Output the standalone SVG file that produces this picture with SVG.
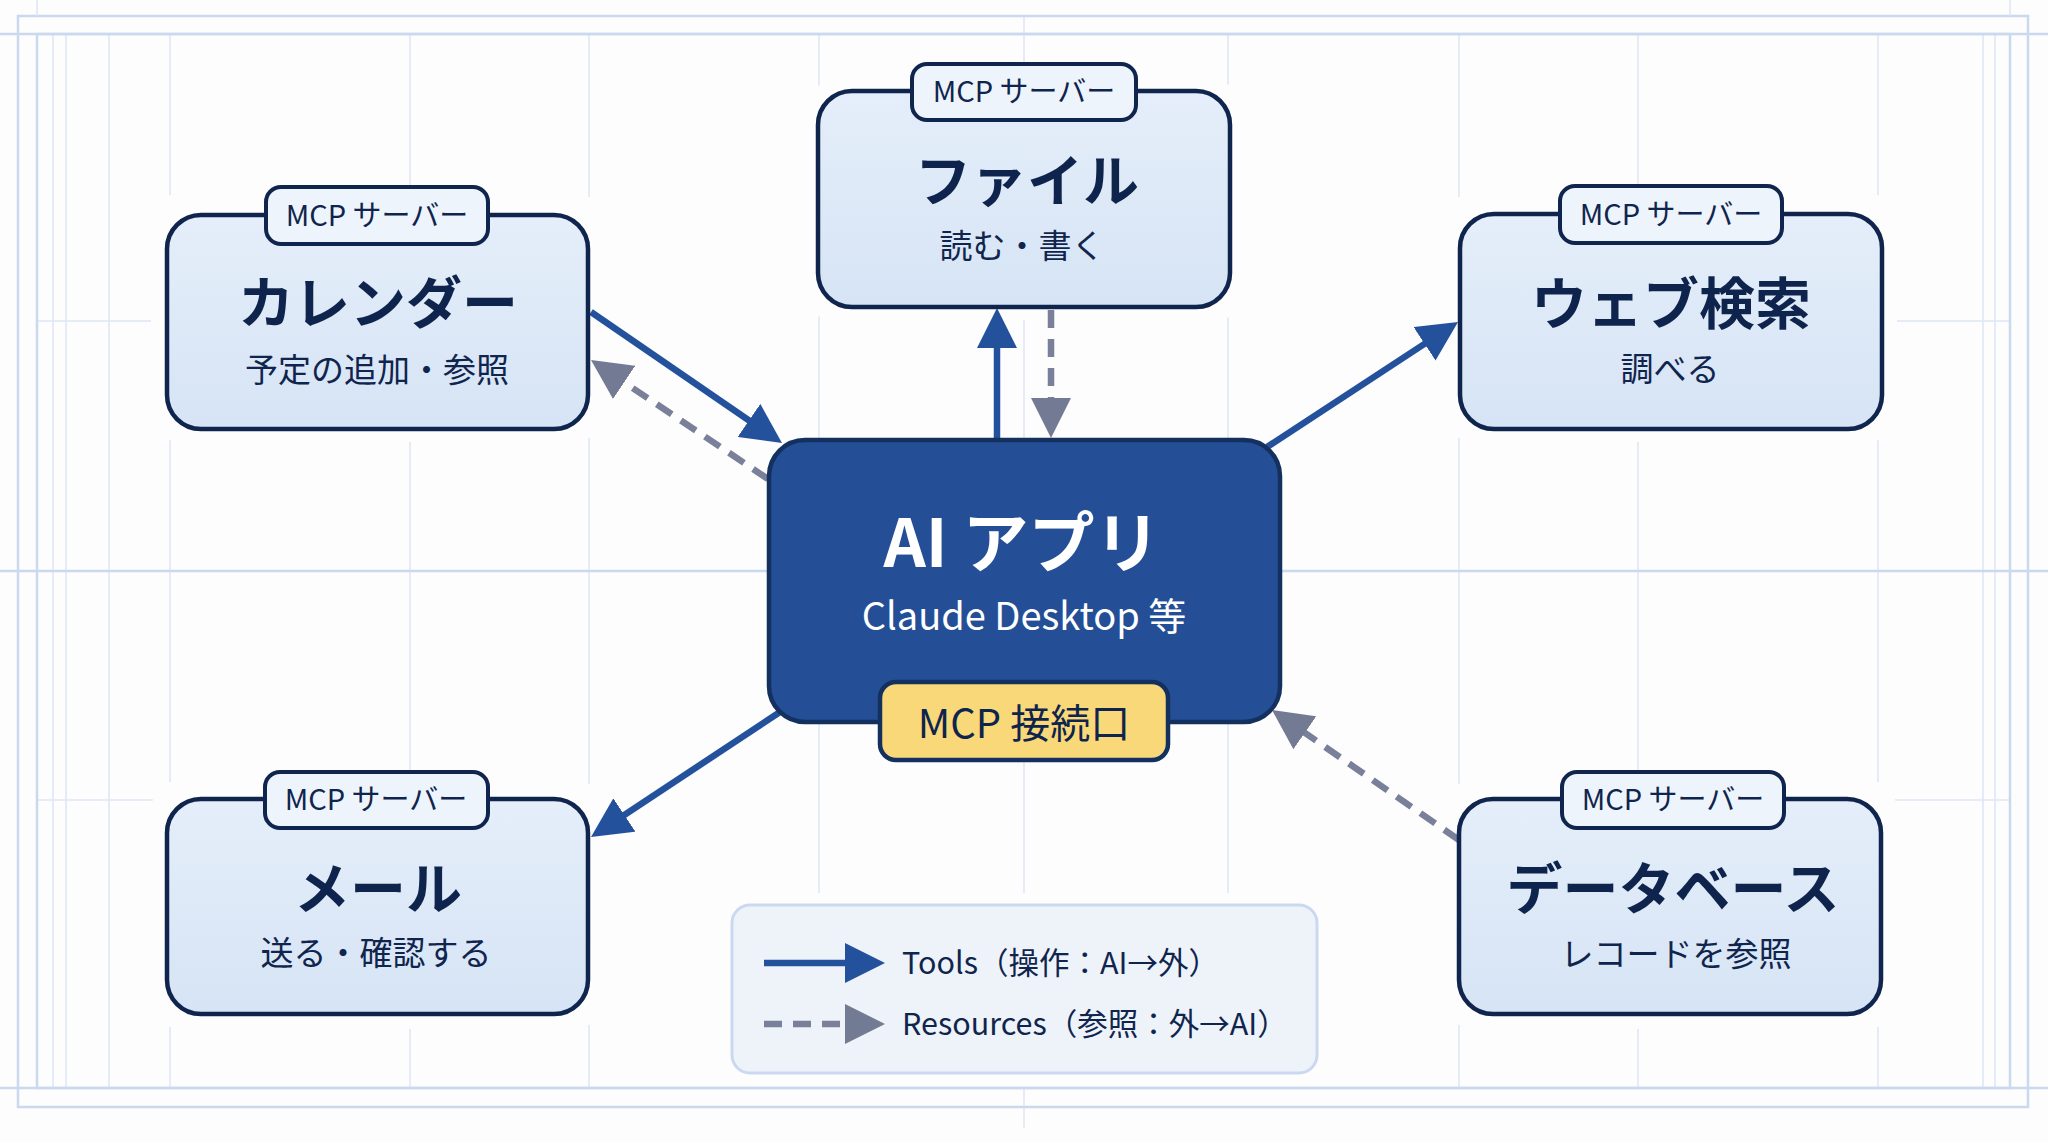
<svg xmlns="http://www.w3.org/2000/svg" width="2048" height="1143" viewBox="0 0 2048 1143">
  <defs>
    <style>
      .grid { stroke: #dce6f4; stroke-width: 1.5; fill: none; }
      .frame { stroke: #cbd9ee; stroke-width: 2.5; fill: none; }
      .knock { fill: #fdfdfe; }
      .box { fill: url(#boxGrad); stroke: #10254d; stroke-width: 4.5; }
      .tab { fill: #eef4fc; stroke: #10254d; stroke-width: 4; }
      .tabtxt { font-family: "Noto Sans CJK JP", "Noto Sans", sans-serif; font-size: 29px; fill: #10254d; text-anchor: middle; }
      .title { font-family: "Noto Sans CJK JP", "Noto Sans", sans-serif; font-size: 56px; font-weight: 700; fill: #0f244d; text-anchor: middle; }
      .sub { font-family: "Noto Sans CJK JP", "Noto Sans", sans-serif; font-size: 33px; fill: #10254d; text-anchor: middle; }
      .tool { stroke: #24519c; stroke-width: 6.5; fill: none; }
      .res { stroke: #7a8099; stroke-width: 6.5; fill: none; stroke-dasharray: 18 11; }
      .legtxt { font-family: "Noto Sans CJK JP", "Noto Sans", sans-serif; font-size: 30.5px; fill: #10254d; }
    </style>
    <linearGradient id="boxGrad" x1="0" y1="0" x2="0" y2="1">
      <stop offset="0" stop-color="#e5eefa"/>
      <stop offset="1" stop-color="#d6e4f5"/>
    </linearGradient>
    <marker id="ahTool" markerUnits="userSpaceOnUse" viewBox="0 0 40 40" markerWidth="40" markerHeight="40" refX="20" refY="20" orient="auto">
      <path d="M0,0 L40,20 L0,40 z" fill="#24519c"/>
    </marker>
    <marker id="ahRes" markerUnits="userSpaceOnUse" viewBox="0 0 40 40" markerWidth="40" markerHeight="40" refX="20" refY="20" orient="auto">
      <path d="M0,0 L40,20 L0,40 z" fill="#737a94"/>
    </marker>
  </defs>

  <rect x="0" y="0" width="2048" height="1143" fill="#fdfdfe"/>

  <g id="background">
    <line class="grid" x1="53" y1="34" x2="53" y2="1088"/>
    <line class="grid" x1="66" y1="34" x2="66" y2="1088"/>
    <line class="grid" x1="109" y1="34" x2="109" y2="1088"/>
    <line class="grid" x1="170" y1="34" x2="170" y2="1088"/>
    <line class="grid" x1="410" y1="34" x2="410" y2="1088"/>
    <line class="grid" x1="589" y1="34" x2="589" y2="1088"/>
    <line class="grid" x1="819" y1="34" x2="819" y2="1088"/>
    <line class="grid" x1="1024" y1="16" x2="1024" y2="1128"/>
    <line class="grid" x1="1228" y1="34" x2="1228" y2="1088"/>
    <line class="grid" x1="1459" y1="34" x2="1459" y2="1088"/>
    <line class="grid" x1="1638" y1="34" x2="1638" y2="1088"/>
    <line class="grid" x1="1878" y1="34" x2="1878" y2="1088"/>
    <line class="grid" x1="1983" y1="34" x2="1983" y2="1088"/>
    <line class="grid" x1="1995" y1="34" x2="1995" y2="1088"/>
    <line class="grid" x1="37" y1="321" x2="153" y2="321"/>
    <line class="grid" x1="1895" y1="321" x2="2010" y2="321"/>
    <line class="grid" x1="37" y1="800" x2="153" y2="800"/>
    <line class="grid" x1="1895" y1="800" x2="2010" y2="800"/>
    <line class="frame" x1="0" y1="571" x2="2048" y2="571"/>
    <rect class="knock" x="151" y="193" width="453" height="249" rx="30"/>
    <rect class="knock" x="151" y="780" width="453" height="249" rx="30"/>
    <rect class="knock" x="1444" y="193" width="453" height="249" rx="30"/>
    <rect class="knock" x="1444" y="780" width="453" height="249" rx="30"/>
    <rect class="knock" x="803" y="82" width="443" height="238" rx="30"/>
    <rect class="knock" x="717" y="893" width="612" height="194" rx="20"/>
    <rect class="frame" x="18" y="16" width="2010" height="1091"/>
    <rect class="frame" x="37" y="34" width="1973" height="1054"/>
    <line class="frame" x1="0" y1="34" x2="2048" y2="34"/>
    <line class="frame" x1="0" y1="1088" x2="2048" y2="1088"/>
    <line class="grid" x1="37" y1="0" x2="37" y2="16"/>
    <line class="grid" x1="2010" y1="0" x2="2010" y2="16"/>
  </g>

  <g id="connectors">
    <line class="tool" x1="591" y1="312" x2="765.5" y2="431.7" marker-end="url(#ahTool)"/>
    <line class="res" x1="768" y1="479" x2="607.6" y2="371.2" marker-end="url(#ahRes)"/>
    <line class="tool" x1="997" y1="441" x2="997" y2="328" marker-end="url(#ahTool)"/>
    <line class="res" x1="1051" y1="310" x2="1051" y2="418" marker-end="url(#ahRes)"/>
    <line class="tool" x1="1267" y1="447" x2="1441.3" y2="332.9" marker-end="url(#ahTool)"/>
    <line class="tool" x1="780" y1="712" x2="607.7" y2="826" marker-end="url(#ahTool)"/>
    <line class="res" x1="1459" y1="840" x2="1288.4" y2="721.4" marker-end="url(#ahRes)"/>
  </g>

  <g id="node-calendar">
    <rect class="box" x="167" y="215" width="421" height="214" rx="34"/>
    <rect class="tab" x="266" y="187" width="222" height="57" rx="15"/>
    <text class="tabtxt" x="377" y="226">MCP サーバー</text>
    <text class="title" x="378" y="323">カレンダー</text>
    <text class="sub" x="377" y="382">予定の追加・参照</text>
  </g>

  <g id="node-file">
    <rect class="box" x="818" y="91" width="412" height="216" rx="34"/>
    <rect class="tab" x="912" y="64" width="224" height="56" rx="15"/>
    <text class="tabtxt" x="1024" y="102">MCP サーバー</text>
    <text class="title" x="1027" y="201">ファイル</text>
    <text class="sub" x="1022" y="258">読む・書く</text>
  </g>

  <g id="node-web">
    <rect class="box" x="1460" y="214" width="422" height="215" rx="34"/>
    <rect class="tab" x="1560" y="186" width="222" height="57" rx="15"/>
    <text class="tabtxt" x="1671" y="225">MCP サーバー</text>
    <text class="title" x="1671" y="324">ウェブ検索</text>
    <text class="sub" x="1670" y="381">調べる</text>
  </g>

  <g id="node-mail">
    <rect class="box" x="167" y="799" width="421" height="215" rx="34"/>
    <rect class="tab" x="265" y="772" width="223" height="56" rx="15"/>
    <text class="tabtxt" x="376" y="810">MCP サーバー</text>
    <text class="title" x="378" y="909">メール</text>
    <text class="sub" x="376" y="965">送る・確認する</text>
  </g>

  <g id="node-database">
    <rect class="box" x="1459" y="799" width="422" height="215" rx="34"/>
    <rect class="tab" x="1562" y="772" width="222" height="56" rx="15"/>
    <text class="tabtxt" x="1673" y="810">MCP サーバー</text>
    <text class="title" x="1673" y="909">データベース</text>
    <text class="sub" x="1676" y="966">レコードを参照</text>
  </g>

  <g id="node-ai">
    <rect x="769" y="440" width="511" height="282" rx="36" fill="#244f96" stroke="#13305f" stroke-width="4.5"/>
    <text x="1022" y="567" font-family="Noto Sans CJK JP, Noto Sans, sans-serif" font-size="66" font-weight="700" fill="#ffffff" text-anchor="middle">AI アプリ</text>
    <text x="1024" y="630" font-family="Noto Sans CJK JP, Noto Sans, sans-serif" font-size="38" fill="#ffffff" text-anchor="middle">Claude Desktop 等</text>
    <rect x="880" y="682" width="288" height="78" rx="16" fill="#f8d878" stroke="#13305f" stroke-width="4.5"/>
    <text x="1024" y="738" font-family="Noto Sans CJK JP, Noto Sans, sans-serif" font-size="40" fill="#0f244d" text-anchor="middle">MCP 接続口</text>
  </g>

  <g id="legend">
    <rect x="732" y="905" width="585" height="168" rx="18" fill="#eef3fa" stroke="#cad9ef" stroke-width="3"/>
    <line class="tool" x1="764" y1="963" x2="865" y2="963" marker-end="url(#ahTool)"/>
    <text class="legtxt" x="902" y="974">Tools（操作：AI→外）</text>
    <line class="res" x1="764" y1="1024" x2="865" y2="1024" marker-end="url(#ahRes)"/>
    <text class="legtxt" x="902" y="1035">Resources（参照：外→AI）</text>
  </g>
</svg>
